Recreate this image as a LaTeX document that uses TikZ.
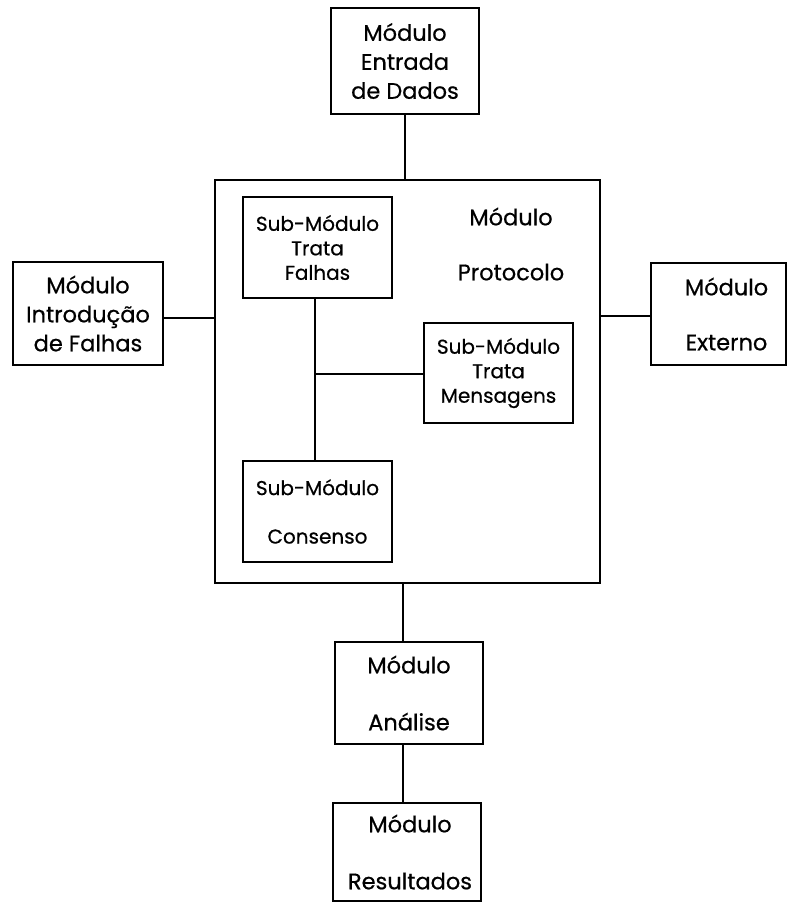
\documentclass[tikz,border=0pt]{standalone}
\usepackage{fontspec}
\setmainfont{Poppins}[FakeBold=0.6]
\begin{document}
\begin{tikzpicture}[x=1pt,y=-1pt,
  box/.style={draw,line width=2.8pt,rectangle,inner sep=0pt,align=center},
  bigtxt/.style={font=\fontsize{22.5}{29}\selectfont},
  smalltxt/.style={font=\fontsize{20}{24.5}\selectfont},
  conn/.style={line width=1.4pt}]
\useasboundingbox (0,0) rectangle (789,903);
\node[box,bigtxt,minimum width=148pt,minimum height=106pt] (entrada) at (405,61) {Módulo\\Entrada\\de Dados};
\node[box,minimum width=385pt,minimum height=403pt] (prot) at (407.5,381.5) {};
\node[bigtxt,align=center] (prottxt) at (511,244) {Módulo\\[26pt]Protocolo};
\node[box,bigtxt,minimum width=150pt,minimum height=103pt] (intro) at (88,313.5) {Módulo\\Introdução\\de Falhas};
\node[box,bigtxt,minimum width=135pt,minimum height=102pt,text width=135pt] (externo) at (718.5,314) {\hspace*{16pt}Módulo\\[26pt]\hspace*{16pt}Externo};
\node[box,smalltxt,minimum width=149pt,minimum height=101pt] (falhas) at (317.5,247.5) {Sub-Módulo\\Trata\\Falhas};
\node[box,smalltxt,minimum width=149pt,minimum height=100pt] (mensagens) at (498.5,373) {Sub-Módulo\\Trata\\Mensagens};
\node[box,smalltxt,minimum width=149pt,minimum height=101pt] (consenso) at (317.5,511.5) {Sub-Módulo\\[24pt]Consenso};
\node[box,bigtxt,minimum width=148pt,minimum height=102pt] (analise) at (409,693) {Módulo\\[28pt]Análise};
\node[box,bigtxt,minimum width=148pt,minimum height=98pt] (resultados) at (407,852) {\hspace*{6pt}Módulo\\[28pt]\hspace*{6pt}Resultados};
\coordinate (top) at (405,180);
\coordinate (bot) at (403,583);
\coordinate (vj) at (315,298);
\coordinate (vj2) at (315,461);
\coordinate (hj) at (315,374);
\draw[conn] (entrada.south) -- (top);
\draw[conn] (intro.east |- 0,318) -- (prot.west |- 0,318);
\draw[conn] (prot.east |- 0,316) -- (externo.west |- 0,316);
\draw[conn] (vj) -- (vj2);
\draw[conn] (hj) -- (mensagens.west |- hj);
\draw[conn] (bot) -- (analise.north -| bot);
\draw[conn] (analise.south -| bot) -- (resultados.north -| bot);
\end{tikzpicture}
\end{document}
